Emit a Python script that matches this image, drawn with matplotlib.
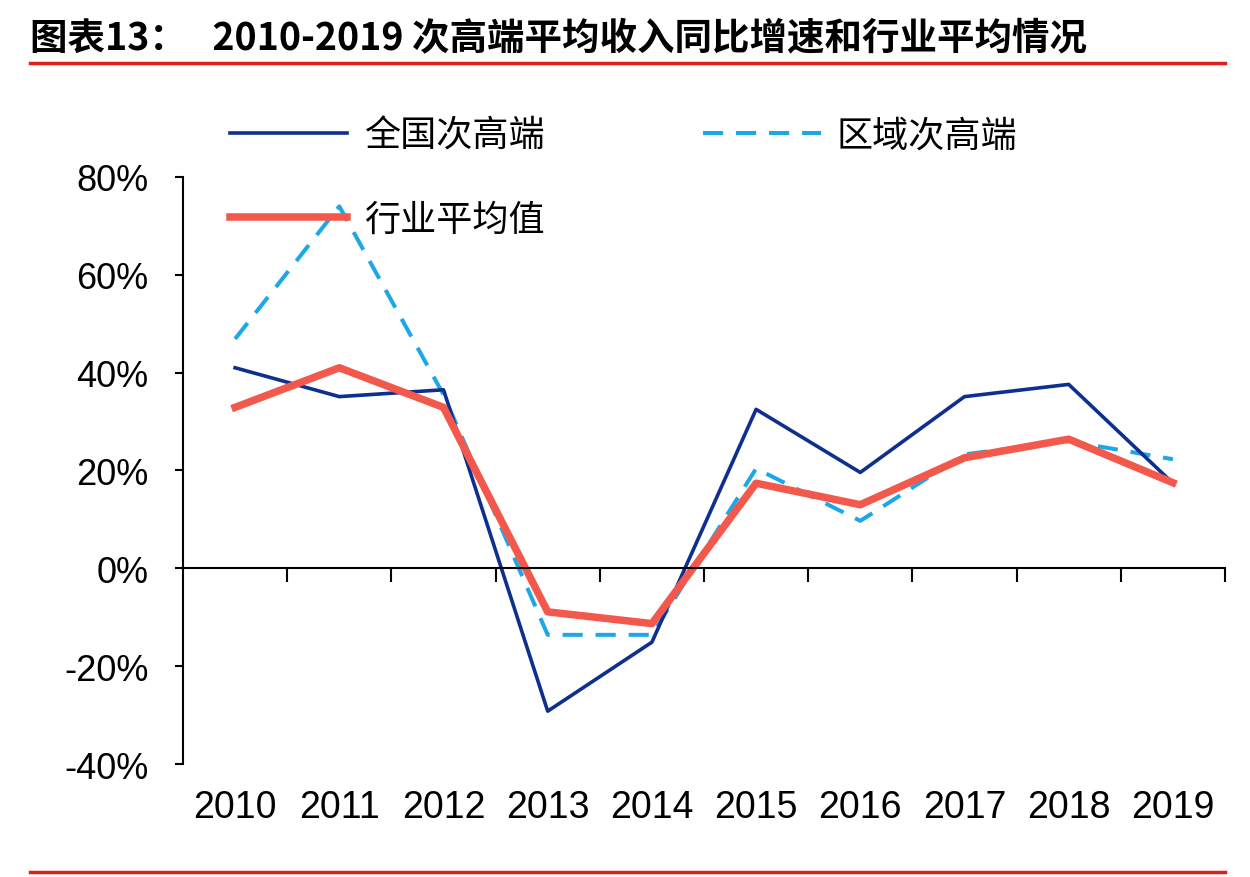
import matplotlib.pyplot as plt
import numpy as np
from matplotlib.ticker import FuncFormatter

plt.rcParams['font.family'] = ['Liberation Sans', 'Noto Sans CJK SC', 'DejaVu Sans']

years = ["2010", "2011", "2012", "2013", "2014", "2015", "2016", "2017", "2018", "2019"]
national = [41.0, 35.1, 36.5, -29.2, -15.1, 32.5, 19.6, 35.1, 37.6, 17.4]
regional = [46.9, 74.0, 35.5, -13.6, -13.6, 20.4, 9.7, 23.3, 26.0, 22.3]
industry = [32.9, 41.0, 32.9, -8.9, -11.3, 17.4, 13.0, 22.6, 26.4, 17.5]

fig = plt.figure(figsize=(12.5, 8.78), dpi=100)
ax = fig.add_axes([0.1464, 0.1287, 0.8336, 0.6686])

x = np.arange(len(years))
ax.plot(x, regional, color='#1ca8e8', linewidth=2.9, dashes=(5.0, 3.2), label='区域次高端')
ax.plot(x, national, color='#0e2f8e', linewidth=2.6, label='全国次高端')
ax.plot(x, industry, color='#f2594c', linewidth=5.4, label='行业平均值')

ax.set_xlim(-0.5, 9.5)
ax.set_ylim(-40, 80)
ax.set_yticks([-40, -20, 0, 20, 40, 60, 80])
ax.yaxis.set_major_formatter(FuncFormatter(lambda v, p: f"{v:.0f}%"))
ax.tick_params(axis='y', direction='out', length=6, width=1.5, pad=19, labelsize=26)

# x axis sits on zero, ticks between categories
ax.spines['bottom'].set_position(('data', 0))
ax.spines['top'].set_visible(False)
ax.spines['right'].set_visible(False)
ax.spines['left'].set_linewidth(1.5)
ax.spines['bottom'].set_linewidth(1.5)
ax.set_xticks(np.arange(0.5, 10, 1.0))
ax.set_xticklabels([])
ax.tick_params(axis='x', direction='out', length=10, width=1.5)
for i, yr in enumerate(years):
    ax.text(i, -0.073, yr, transform=ax.get_xaxis_transform(), ha='center', va='center', fontsize=27)

handles, labels = ax.get_legend_handles_labels()
order = [1, 2, 0]
ax.legend([handles[i] for i in order], [labels[i] for i in order], ncol=2, frameon=False,
          loc='upper left', bbox_to_anchor=(0.014, 1.157), handlelength=3.25, handletextpad=0.45,
          columnspacing=4.4, labelspacing=1.33, prop={'family': 'Noto Sans CJK SC', 'size': 26})

fig.text(0.024, 0.957, "图表13：   2010-2019 次高端平均收入同比增速和行业平均情况",
         fontsize=27, fontweight='bold', family=['Noto Sans CJK SC', 'DejaVu Sans'], va='center')
fig.add_artist(plt.Line2D([0.024, 0.98], [0.927, 0.927], color='#e0201b', linewidth=2.5))
fig.add_artist(plt.Line2D([0.024, 0.98], [0.006, 0.006], color='#e0201b', linewidth=2.5))

fig.savefig('out.png', dpi=100)
